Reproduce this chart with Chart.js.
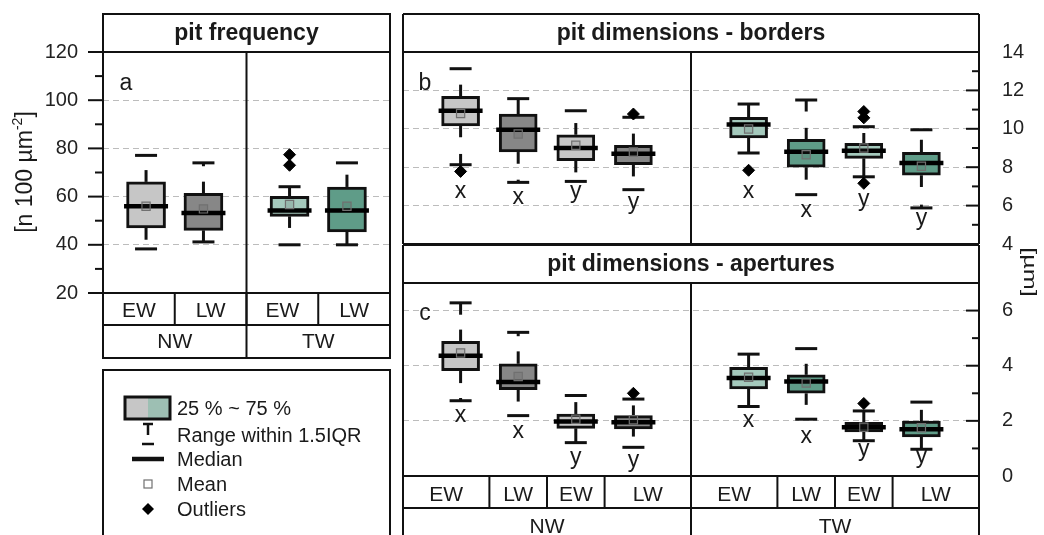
<!DOCTYPE html>
<html>
<head>
<meta charset="utf-8">
<script src="https://cdn.jsdelivr.net/npm/chart.js@4.4.1/dist/chart.umd.min.js"></script>
<style>
  html, body { margin: 0; padding: 0; background: #fff; }
  #wrap { position: relative; width: 1044px; height: 535px; overflow: hidden; }
  #wrap canvas { position: absolute; left: 0; top: 0; }
</style>
</head>
<body>
<div id="wrap">
  <canvas id="chartA" width="1044" height="535"></canvas>
  <canvas id="chartB" width="1044" height="535"></canvas>
  <canvas id="chartC" width="1044" height="535"></canvas>
</div>
<script>
const FONT = "'Liberation Sans', Arial, sans-serif";
Chart.defaults.font.family = FONT;
Chart.defaults.color = "#1a1a1a";

// colours per wood type / ring zone
const colNwEw = "#c6c6c6", colNwLw = "#878787", colTwEw = "#a4c9bc", colTwLw = "#5f9c88";

// ---- panel a : pit frequency [n 100 µm-2] ----
const aPos = [0.3, 0.7, 1.3, 1.7];
const aSub = ["EW", "LW", "EW", "LW"];
const aGroups = ["NW", "TW"];
const aColors = [colNwEw, colNwLw, colTwEw, colTwLw];
const aQ1 = [47, 46, 51.8, 45.3];
const aQ3 = [66.1, 61.4, 60.1, 64];
const aMedian = [56, 53.2, 54.2, 54.2];
const aMean = [56, 54.9, 56.7, 56];
const aWhiskLo = [42.1, 41.2, 47, 40];
const aWhiskHi = [71, 66.2, 64.1, 69.1];
const aMin = [38.3, 41.2, 40, 40];
const aMax = [77.1, 74, 64.1, 74];
const aStubLo = [null, null, null, null];
const aStubHi = [null, 72.6, null, null];
const aOutliers = [[], [], [73, 77.4], []];
const aTicks = [20, 40, 60, 80, 100, 120];
const aMinor = [30, 50, 70, 90, 110];

// ---- panels b and c share the categories ----
const bcPos = [1, 2, 3, 4, 6, 7, 8, 9];
const bcSub = ["EW", "LW", "EW", "LW", "EW", "LW", "EW", "LW"];
const bcGroups = ["NW", "TW"];
const bcLetters = ["x", "x", "y", "y", "x", "x", "y", "y"];
const bcColors = [colNwEw, colNwLw, colNwEw, colNwLw, colTwEw, colTwLw, colTwEw, colTwLw];

// ---- panel b : pit borders [µm] ----
const bQ1 = [10.15, 8.79, 8.34, 8.13, 9.52, 8.0, 8.46, 7.58];
const bQ3 = [11.69, 10.77, 9.69, 9.14, 10.6, 9.45, 9.24, 8.77];
const bMedian = [10.94, 9.95, 9.0, 8.7, 10.22, 8.81, 8.86, 8.22];
const bMean = [10.8, 9.73, 9.14, 8.79, 9.99, 8.65, 9.0, 8.05];
const bWhiskLo = [9.56, 8.18, 7.73, 7.52, 8.74, 7.35, 7.5, 6.97];
const bWhiskHi = [12.3, 11.57, 10.3, 9.75, 11.29, 10.05, 9.78, 9.43];
const bMin = [8.13, 7.21, 7.26, 6.83, 8.74, 6.57, 7.5, 5.88];
const bMax = [13.13, 11.57, 10.94, 10.6, 11.29, 11.5, 10.11, 9.95];
const bStubLo = [8.69, 7.35, null, null, null, null, null, 6.05];
const bStubHi = [null, null, null, null, null, 10.9, null, null];
const bOutliers = [[7.78], [], [], [10.77], [7.84], [], [10.9, 10.57, 7.16], []];
const bLetterY = [6.4, 6.08, 6.42, 5.82, 6.4, 5.41, 5.98, 4.99];
const bTicks = [4, 6, 8, 10, 12, 14];
const bMinor = [5, 7, 9, 11, 13];

// ---- panel c : pit apertures [µm] ----
const cQ1 = [3.82, 3.13, 1.73, 1.71, 3.16, 3.0, 1.6, 1.42];
const cQ3 = [4.88, 4.07, 2.25, 2.19, 3.94, 3.67, 1.95, 1.99];
const cMedian = [4.36, 3.41, 1.98, 1.95, 3.55, 3.43, 1.77, 1.7];
const cMean = [4.46, 3.61, 2.06, 2.04, 3.58, 3.37, 1.77, 1.75];
const cWhiskLo = [3.37, 2.7, 1.21, 1.43, 2.52, 2.58, 1.28, 0.97];
const cWhiskHi = [5.31, 4.52, 2.68, 2.56, 4.42, 4.07, 2.36, 2.4];
const cMin = [2.73, 2.19, 1.21, 1.04, 2.52, 2.06, 1.28, 0.97];
const cMax = [6.28, 5.21, 2.92, 2.79, 4.42, 4.62, 2.36, 2.68];
const cStubLo = [2.83, null, null, null, null, null, null, null];
const cStubHi = [5.85, 5.07, null, null, null, null, null, null];
const cOutliers = [[], [], [], [3.0], [], [], [2.63], []];
const cLetterY = [1.96, 1.38, 0.44, 0.33, 1.78, 1.2, 0.73, 0.47];
const cTicks = [0, 2, 4, 6];
const cMinor = [1, 3, 5];

// ---------- helpers ----------
function text(ctx, s, x, y, size, o = {}) {
  ctx.save();
  ctx.font = (o.bold ? "bold " : "") + size + "px " + FONT;
  ctx.fillStyle = o.color || "#1a1a1a";
  ctx.textAlign = o.align || "center";
  ctx.textBaseline = o.base || "alphabetic";
  ctx.translate(x, y);
  if (o.rot) ctx.rotate(o.rot);
  if (o.sx) ctx.scale(o.sx, 1);
  ctx.fillText(s, 0, 0);
  ctx.restore();
}
function seg(ctx, x1, y1, x2, y2) {
  ctx.beginPath(); ctx.moveTo(x1, y1); ctx.lineTo(x2, y2); ctx.stroke();
}
function outlierPoints(pos, outs) {
  const pts = [];
  outs.forEach((list, i) => list.forEach(v => pts.push({ x: pos[i], y: v })));
  return pts;
}
const gridColor = c => (c.tick && (c.tick.value === c.scale.min || c.tick.value === c.scale.max)) ? "rgba(0,0,0,0)" : "#bcbcbc";

// whiskers, range dashes, medians and the x / y letters
function boxParts(s) {
  return {
    id: "boxParts",
    beforeDatasetsDraw(chart) {
      const { ctx, scales: { x, y } } = chart;
      ctx.save();
      ctx.strokeStyle = "#111";
      ctx.lineWidth = 3;
      s.pos.forEach((p, i) => {
        const px = x.getPixelForValue(p);
        seg(ctx, px, y.getPixelForValue(s.q1[i]), px, y.getPixelForValue(s.lo[i]));
        seg(ctx, px, y.getPixelForValue(s.q3[i]), px, y.getPixelForValue(s.hi[i]));
        const yMin = y.getPixelForValue(s.min[i]), yMax = y.getPixelForValue(s.max[i]);
        seg(ctx, px - 11, yMin, px + 11, yMin);
        seg(ctx, px - 11, yMax, px + 11, yMax);
        if (s.stubLo[i] !== null) seg(ctx, px, yMin, px, y.getPixelForValue(s.stubLo[i]));
        if (s.stubHi[i] !== null) seg(ctx, px, yMax, px, y.getPixelForValue(s.stubHi[i]));
      });
      ctx.restore();
    },
    afterDatasetDraw(chart, args) {
      if (args.index !== 0) return;
      const { ctx, scales: { x, y } } = chart;
      ctx.save();
      ctx.strokeStyle = "#000";
      ctx.lineWidth = 4.5;
      s.pos.forEach((p, i) => {
        const px = x.getPixelForValue(p), py = y.getPixelForValue(s.med[i]);
        seg(ctx, px - s.half, py, px + s.half, py);
      });
      ctx.restore();
    },
    afterDatasetsDraw(chart) {
      if (!s.letters) return;
      const { ctx, scales: { x, y } } = chart;
      s.pos.forEach((p, i) => text(ctx, s.letters[i], x.getPixelForValue(p), y.getPixelForValue(s.letterY[i]), 23));
    }
  };
}

// edges of the sub-category cells (midpoints between boxes)
function cellEdges(pos, min, max) {
  const e = [min];
  for (let i = 1; i < pos.length; i++) e.push((pos[i - 1] + pos[i]) / 2);
  e.push(max);
  return e;
}

function boxDatasets(pos, q1, q3, mean, outs, colors, width) {
  return [
    { type: "bar", data: pos.map((x, i) => ({ x, y: [q1[i], q3[i]] })), backgroundColor: colors,
      borderColor: "#111", borderWidth: 3, borderSkipped: false, barThickness: width, order: 3 },
    { type: "scatter", data: pos.map((x, i) => ({ x, y: mean[i] })), pointStyle: "rect", pointRadius: 5.8,
      backgroundColor: "rgba(80,80,80,0.15)", borderColor: "#707070", borderWidth: 1.2, order: 1 },
    { type: "scatter", data: outlierPoints(pos, outs), pointStyle: "rectRot", pointRadius: 6,
      backgroundColor: "#000", borderColor: "#000", borderWidth: 1, order: 1 }
  ];
}

function yScale(pos, min, max, ticks, width, pad) {
  return {
    type: "linear", position: pos, min, max,
    afterFit: sc => { sc.width = width; },
    afterBuildTicks: sc => { sc.ticks = ticks.map(v => ({ value: v })); },
    ticks: { font: { size: 20 }, color: "#222", padding: pad },
    grid: { drawTicks: false, color: gridColor, lineWidth: 1 },
    border: { display: false, dash: [6, 4] }
  };
}

const baseOptions = { responsive: false, animation: false, devicePixelRatio: 1, events: [] };

// ---------- panel a ----------
const frameA = {
  id: "frameA",
  afterDraw(chart) {
    const { ctx, chartArea: ca, scales: { x, y } } = chart;
    const top = ca.top - 38, row1 = ca.bottom + 32, row2 = ca.bottom + 65;
    ctx.save();
    ctx.strokeStyle = "#111";
    ctx.lineWidth = 2;
    ctx.strokeRect(ca.left, top, ca.right - ca.left, row2 - top);
    [ca.top, ca.bottom, row1].forEach(v => seg(ctx, ca.left, v, ca.right, v));
    seg(ctx, x.getPixelForValue(1), ca.top, x.getPixelForValue(1), row2);
    const edges = cellEdges(aPos, 0, 2);
    edges.slice(1, -1).forEach(v => seg(ctx, x.getPixelForValue(v), ca.bottom, x.getPixelForValue(v), row1));
    // outward ticks on the left
    aTicks.forEach(v => seg(ctx, ca.left - 15, y.getPixelForValue(v), ca.left, y.getPixelForValue(v)));
    aMinor.forEach(v => seg(ctx, ca.left - 8, y.getPixelForValue(v), ca.left, y.getPixelForValue(v)));
    ctx.restore();

    text(ctx, "pit frequency", (ca.left + ca.right) / 2, ca.top - 12, 23, { bold: true });
    aSub.forEach((s, i) => text(ctx, s, (x.getPixelForValue(edges[i]) + x.getPixelForValue(edges[i + 1])) / 2, row1 - 8, 21));
    aGroups.forEach((g, i) => text(ctx, g, (x.getPixelForValue(i) + x.getPixelForValue(i + 1)) / 2, row2 - 10, 21));
    text(ctx, "a", ca.left + 23, ca.top + 38, 23);

    // y axis title with superscript
    ctx.save();
    ctx.translate(26, 172);
    ctx.rotate(-Math.PI / 2);
    ctx.fillStyle = "#1a1a1a";
    ctx.textBaseline = "middle";
    ctx.font = "23px " + FONT;
    const p1 = "[n 100 µm", p3 = "]";
    const w1 = ctx.measureText(p1).width, w3 = ctx.measureText(p3).width;
    ctx.font = "14px " + FONT;
    const w2 = ctx.measureText("-2").width;
    let sx = -(w1 + w2 + w3) / 2;
    ctx.textAlign = "left";
    ctx.font = "23px " + FONT;
    ctx.fillText(p1, sx, 0);
    ctx.font = "14px " + FONT;
    ctx.fillText("-2", sx + w1, -8);
    ctx.font = "23px " + FONT;
    ctx.fillText(p3, sx + w1 + w2, 0);
    ctx.restore();

    // legend
    const lx = ca.left, ly = row2 + 12;
    ctx.save();
    ctx.strokeStyle = "#111";
    ctx.lineWidth = 2;
    ctx.strokeRect(lx, ly, ca.right - ca.left, 300);
    const cx = lx + 45;
    ctx.fillStyle = colNwEw; ctx.fillRect(cx - 23, ly + 27, 23, 22);
    ctx.fillStyle = "#9dbfb3"; ctx.fillRect(cx, ly + 27, 22, 22);
    ctx.lineWidth = 3; ctx.strokeRect(cx - 23, ly + 27, 45, 22);
    ctx.lineWidth = 2.5;
    seg(ctx, cx - 5, ly + 54, cx + 5, ly + 54);
    seg(ctx, cx, ly + 54, cx, ly + 65);
    seg(ctx, cx - 6, ly + 74, cx + 6, ly + 74);
    ctx.lineWidth = 4.5;
    seg(ctx, cx - 16, ly + 89, cx + 16, ly + 89);
    ctx.lineWidth = 1.2; ctx.strokeStyle = "#707070";
    ctx.strokeRect(cx - 4, ly + 110, 8, 8);
    ctx.fillStyle = "#000";
    ctx.beginPath();
    ctx.moveTo(cx, ly + 133); ctx.lineTo(cx + 6, ly + 139); ctx.lineTo(cx, ly + 145); ctx.lineTo(cx - 6, ly + 139);
    ctx.closePath(); ctx.fill();
    ctx.restore();
    const tx = lx + 74;
    text(ctx, "25 % ~ 75 %", tx, ly + 45, 20, { align: "left" });
    text(ctx, "Range within 1.5IQR", tx, ly + 72, 20, { align: "left" });
    text(ctx, "Median", tx, ly + 96, 20, { align: "left" });
    text(ctx, "Mean", tx, ly + 121, 20, { align: "left" });
    text(ctx, "Outliers", tx, ly + 146, 20, { align: "left" });
  }
};

new Chart(document.getElementById("chartA"), {
  type: "bar",
  data: { datasets: boxDatasets(aPos, aQ1, aQ3, aMean, aOutliers, aColors, 39) },
  options: {
    ...baseOptions,
    layout: { padding: { left: 0, right: 654, top: 52, bottom: 242 } },
    plugins: { legend: { display: false }, tooltip: { enabled: false } },
    scales: {
      x: { type: "linear", min: 0, max: 2, display: false, offset: false },
      y: yScale("left", 20, 120, aTicks, 103, 25)
    }
  },
  plugins: [boxParts({ pos: aPos, q1: aQ1, q3: aQ3, lo: aWhiskLo, hi: aWhiskHi, min: aMin, max: aMax,
    stubLo: aStubLo, stubHi: aStubHi, med: aMedian, half: 22 }), frameA]
});

// ---------- panels b and c ----------
function frameBC(which) {
  return {
    id: "frame" + which,
    afterDraw(chart) {
      const { ctx, chartArea: ca, scales: { x, y } } = chart;
      const tick = (which === "b") ? [bTicks, bMinor] : [cTicks, cMinor];
      const top = ca.top - 38;
      ctx.save();
      ctx.strokeStyle = "#111";
      ctx.lineWidth = 2;
      [top, ca.top, ca.bottom].forEach(v => seg(ctx, ca.left, v, ca.right, v));
      seg(ctx, ca.left, top, ca.left, which === "b" ? ca.bottom : 540);
      seg(ctx, ca.right, top, ca.right, which === "b" ? ca.bottom : 540);
      const mid = x.getPixelForValue(5);
      seg(ctx, mid, ca.top, mid, which === "b" ? ca.bottom : 540);
      tick[0].forEach(v => seg(ctx, ca.right - 13, y.getPixelForValue(v), ca.right, y.getPixelForValue(v)));
      tick[1].forEach(v => seg(ctx, ca.right - 7, y.getPixelForValue(v), ca.right, y.getPixelForValue(v)));
      ctx.restore();
      const title = which === "b" ? "pit dimensions - borders" : "pit dimensions - apertures";
      text(ctx, title, (ca.left + ca.right) / 2, ca.top - 12, 23, { bold: true });
      text(ctx, which, ca.left + 22, ca.top + (which === "b" ? 38 : 37), 23);
      if (which === "b") {
        text(ctx, "[µm]", 1029, 272, 18, { rot: Math.PI / 2, sx: 1.4, base: "middle" });
        return;
      }
      const row1 = ca.bottom + 32;
      ctx.save();
      ctx.strokeStyle = "#111";
      ctx.lineWidth = 2;
      seg(ctx, ca.left, row1, ca.right, row1);
      const edges = cellEdges(bcPos, 0, 10);
      edges.slice(1, -1).forEach(v => seg(ctx, x.getPixelForValue(v), ca.bottom, x.getPixelForValue(v), row1));
      ctx.restore();
      bcSub.forEach((s, i) => text(ctx, s, (x.getPixelForValue(edges[i]) + x.getPixelForValue(edges[i + 1])) / 2, row1 - 7, 21));
      bcGroups.forEach((g, i) => text(ctx, g, x.getPixelForValue(i * 5 + 2.5), row1 + 25, 21));
    }
  };
}

new Chart(document.getElementById("chartB"), {
  type: "bar",
  data: { datasets: boxDatasets(bcPos, bQ1, bQ3, bMean, bOutliers, bcColors, 38) },
  options: {
    ...baseOptions,
    layout: { padding: { left: 403, right: 0, top: 52, bottom: 291 } },
    plugins: { legend: { display: false }, tooltip: { enabled: false } },
    scales: {
      x: { type: "linear", min: 0, max: 10, display: false, offset: false },
      y: yScale("right", 4, 14, bTicks, 65, 23)
    }
  },
  plugins: [boxParts({ pos: bcPos, q1: bQ1, q3: bQ3, lo: bWhiskLo, hi: bWhiskHi, min: bMin, max: bMax,
    stubLo: bStubLo, stubHi: bStubHi, med: bMedian, half: 22, letters: bcLetters, letterY: bLetterY }), frameBC("b")]
});

new Chart(document.getElementById("chartC"), {
  type: "bar",
  data: { datasets: boxDatasets(bcPos, cQ1, cQ3, cMean, cOutliers, bcColors, 38) },
  options: {
    ...baseOptions,
    layout: { padding: { left: 403, right: 0, top: 283, bottom: 59 } },
    plugins: { legend: { display: false }, tooltip: { enabled: false } },
    scales: {
      x: { type: "linear", min: 0, max: 10, display: false, offset: false },
      y: yScale("right", 0, 7, cTicks, 65, 23)
    }
  },
  plugins: [boxParts({ pos: bcPos, q1: cQ1, q3: cQ3, lo: cWhiskLo, hi: cWhiskHi, min: cMin, max: cMax,
    stubLo: cStubLo, stubHi: cStubHi, med: cMedian, half: 22, letters: bcLetters, letterY: cLetterY }), frameBC("c")]
});
</script>
</body>
</html>
